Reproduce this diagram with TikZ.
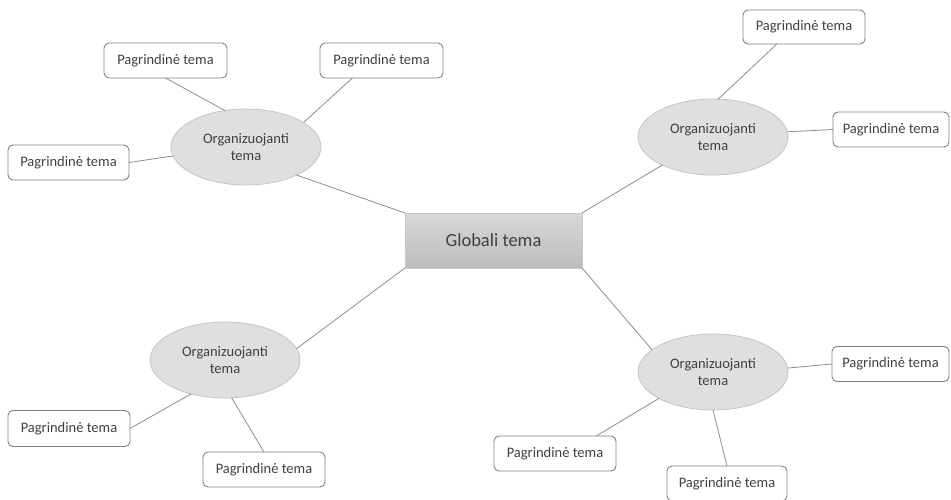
\documentclass[tikz,border=0pt]{standalone}
\usepackage{fontspec}
\setmainfont{Carlito}
\usetikzlibrary{shapes.geometric}
\definecolor{textgray}{HTML}{404040}
\definecolor{boxgray}{HTML}{808080}
\definecolor{ellfill}{HTML}{DFDFDF}
\definecolor{elldraw}{HTML}{C4C4C4}
\definecolor{linegray}{HTML}{8C8C8C}
\definecolor{gtop}{HTML}{D8D8D8}
\definecolor{gbot}{HTML}{BCBCBC}
\definecolor{gdraw}{HTML}{C8C8C8}
\newcommand\subfnt{\fontsize{14.5}{17.8}\selectfont}
\newcommand\bigfnt{\fontsize{18.5}{22}\selectfont}
\tikzset{
  topic/.style={draw=boxgray, line width=0.9pt, rounded corners=5pt, fill=white,
    minimum height=35pt, inner sep=0pt, outer sep=0pt, text=textgray, font=\subfnt},
  org/.style={ellipse, draw=elldraw, line width=0.8pt, fill=ellfill, minimum width=150pt,
    minimum height=76pt, inner sep=0pt, outer sep=0pt, align=center, text=textgray, font=\subfnt},
  globalbox/.style={draw=gdraw, line width=0.8pt, top color=gtop, bottom color=gbot,
    minimum width=177pt, minimum height=55pt, inner sep=0pt, outer sep=0pt,
    text=textgray, font=\bigfnt},
  link/.style={draw=linegray, line width=0.8pt}
}
\begin{document}
\begin{tikzpicture}[x=1pt, y=-1pt]
\useasboundingbox (0,0) rectangle (951,499);
% central
\node[globalbox] (G) at (493.5,240.5) {Globali tema};
% organising ellipses
\node[org] (E1) at (246,147) {Organizuojanti\\tema};
\node[org] (E2) at (713,137) {Organizuojanti\\tema};
\node[org] (E3) at (225,360) {Organizuojanti\\tema};
\node[org] (E4) at (713,372) {Organizuojanti\\tema};
% main topics
\node[topic, minimum width=123pt] (B1) at (165.5,60.5) {Pagrindinė tema};
\node[topic, minimum width=123pt] (B2) at (381.5,60.5) {Pagrindinė tema};
\node[topic, minimum width=121pt] (B3) at (68.5,162.5) {Pagrindinė tema};
\node[topic, minimum width=122pt, minimum height=34pt] (B4) at (804,27) {Pagrindinė tema};
\node[topic, minimum width=116pt] (B5) at (891,129.5) {Pagrindinė tema};
\node[topic, minimum width=122pt, minimum height=36pt] (B6) at (69,428.5) {Pagrindinė tema};
\node[topic, minimum width=122pt] (B7) at (264,469.5) {Pagrindinė tema};
\node[topic, minimum width=117pt] (B8) at (890.5,364) {Pagrindinė tema};
\node[topic, minimum width=122pt] (B9) at (555,453.5) {Pagrindinė tema};
\node[topic, minimum width=120pt] (B10) at (727,483.5) {Pagrindinė tema};
% connectors to the centre
\draw[link] (G.north west) -- (E1.-29);
\draw[link] (G.north east) -- (E2.-151);
\draw[link] (G.south west) -- (E3.9);
\draw[link] (G.south east) -- (E4.160);
% connectors to main topics
\draw[link] (E1.120) -- (B1.south);
\draw[link] (E1.23) -- (B2.-149);
\draw[link] (E1.187) -- (B3.east);
\draw[link] (E2.82) -- (B4.-148);
\draw[link] (E2.4) -- (B5.west);
\draw[link] (E3.-135) -- (B6.east);
\draw[link] (E3.-80) -- (B7.north);
\draw[link] (E4.3) -- (B8.west);
\draw[link] (E4.-154) -- (B9.23.6);
\draw[link] (E4.south) -- (B10.north);
\end{tikzpicture}
\end{document}
